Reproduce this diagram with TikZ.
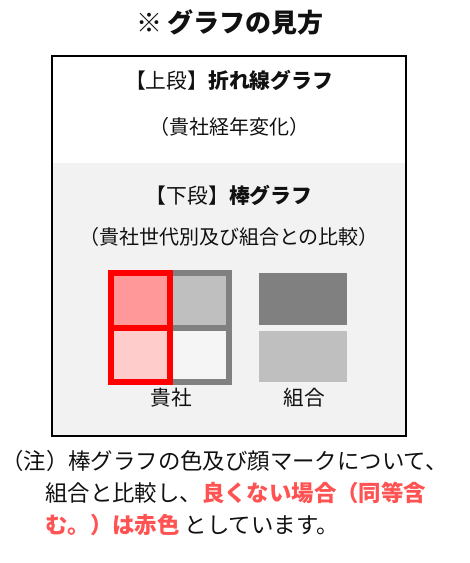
\documentclass[tikz,border=0pt]{standalone}
\usepackage{fontspec}
\setmainfont{Noto Sans CJK JP}
\definecolor{panelgray}{HTML}{F2F2F2}
\definecolor{framegray}{HTML}{808080}
\definecolor{lightgray}{HTML}{BFBFBF}
\definecolor{pinkA}{HTML}{FF9999}
\definecolor{pinkB}{HTML}{FFCCCC}
\definecolor{cellwhite}{HTML}{F5F5F5}
\definecolor{notered}{HTML}{FF5353}
\definecolor{txt}{HTML}{111111}
\tikzset{
  txtnode/.style={inner sep=0pt, text=txt},
  gridline/.style={line width=4.5pt, draw=framegray},
  redline/.style={line width=4.5pt, draw=red},
}
\newcommand{\fs}[1]{\fontsize{#1}{#1}\selectfont}
\begin{document}
\begin{tikzpicture}[x=0.75pt, y=-0.75pt]
\useasboundingbox (0,0) rectangle (469,563);
% title
\node[txtnode] (title) at (230,22) {\fs{19.5pt}\bfseries ※ グラフの見方};
% panel
\fill[panelgray] (52,163) rectangle (406,436);
\draw[line width=0.9pt] (52,56) rectangle (406,436);
\node[txtnode] (upper) at (229,80) {\fs{15.6pt}【上段】\textbf{折れ線グラフ}};
\node[txtnode] (uppersub) at (229,127) {\fs{15pt}（貴社経年変化）};
\node[txtnode] (lower) at (229,195) {\fs{15.6pt}【下段】\textbf{棒グラフ}};
\node[txtnode] (lowersub) at (229,237) {\fs{15pt}（貴社世代別及び組合との比較）};
% 貴社 bars
\fill[pinkA] (111,273) rectangle (170,327.7);
\fill[lightgray] (170,273) rectangle (229,327.7);
\fill[pinkB] (111,327.7) rectangle (170,382);
\fill[cellwhite] (170,327.7) rectangle (229,382);
\draw[gridline] (111,273) rectangle (229,382);
\draw[gridline] (111,327.7) -- (229,327.7);
\draw[redline] (111,273) rectangle (170,382);
\draw[redline] (111,327.7) -- (170,327.7);
% 組合 bars
\fill[framegray] (259,273.3) rectangle (347,324.7);
\fill[lightgray] (259,331) rectangle (347,381.7);
\node[txtnode] (kisha) at (171,398) {\fs{15.5pt}貴社};
\node[txtnode] (kumiai) at (304,398) {\fs{15.5pt}組合};
% note
\node[txtnode, anchor=west] (note1) at (1,461) {\fs{16.8pt}（注）棒グラフの色及び顔マークについて、};
\node[txtnode, anchor=west] (note2) at (45,493) {\fs{16.8pt}組合と比較し、\textcolor{notered}{\bfseries 良くない場合（同等含}};
\node[txtnode, anchor=west] (note3) at (45,525) {\fs{16.8pt}\textcolor{notered}{\bfseries む。）は赤色}\ としています。};
\end{tikzpicture}
\end{document}
